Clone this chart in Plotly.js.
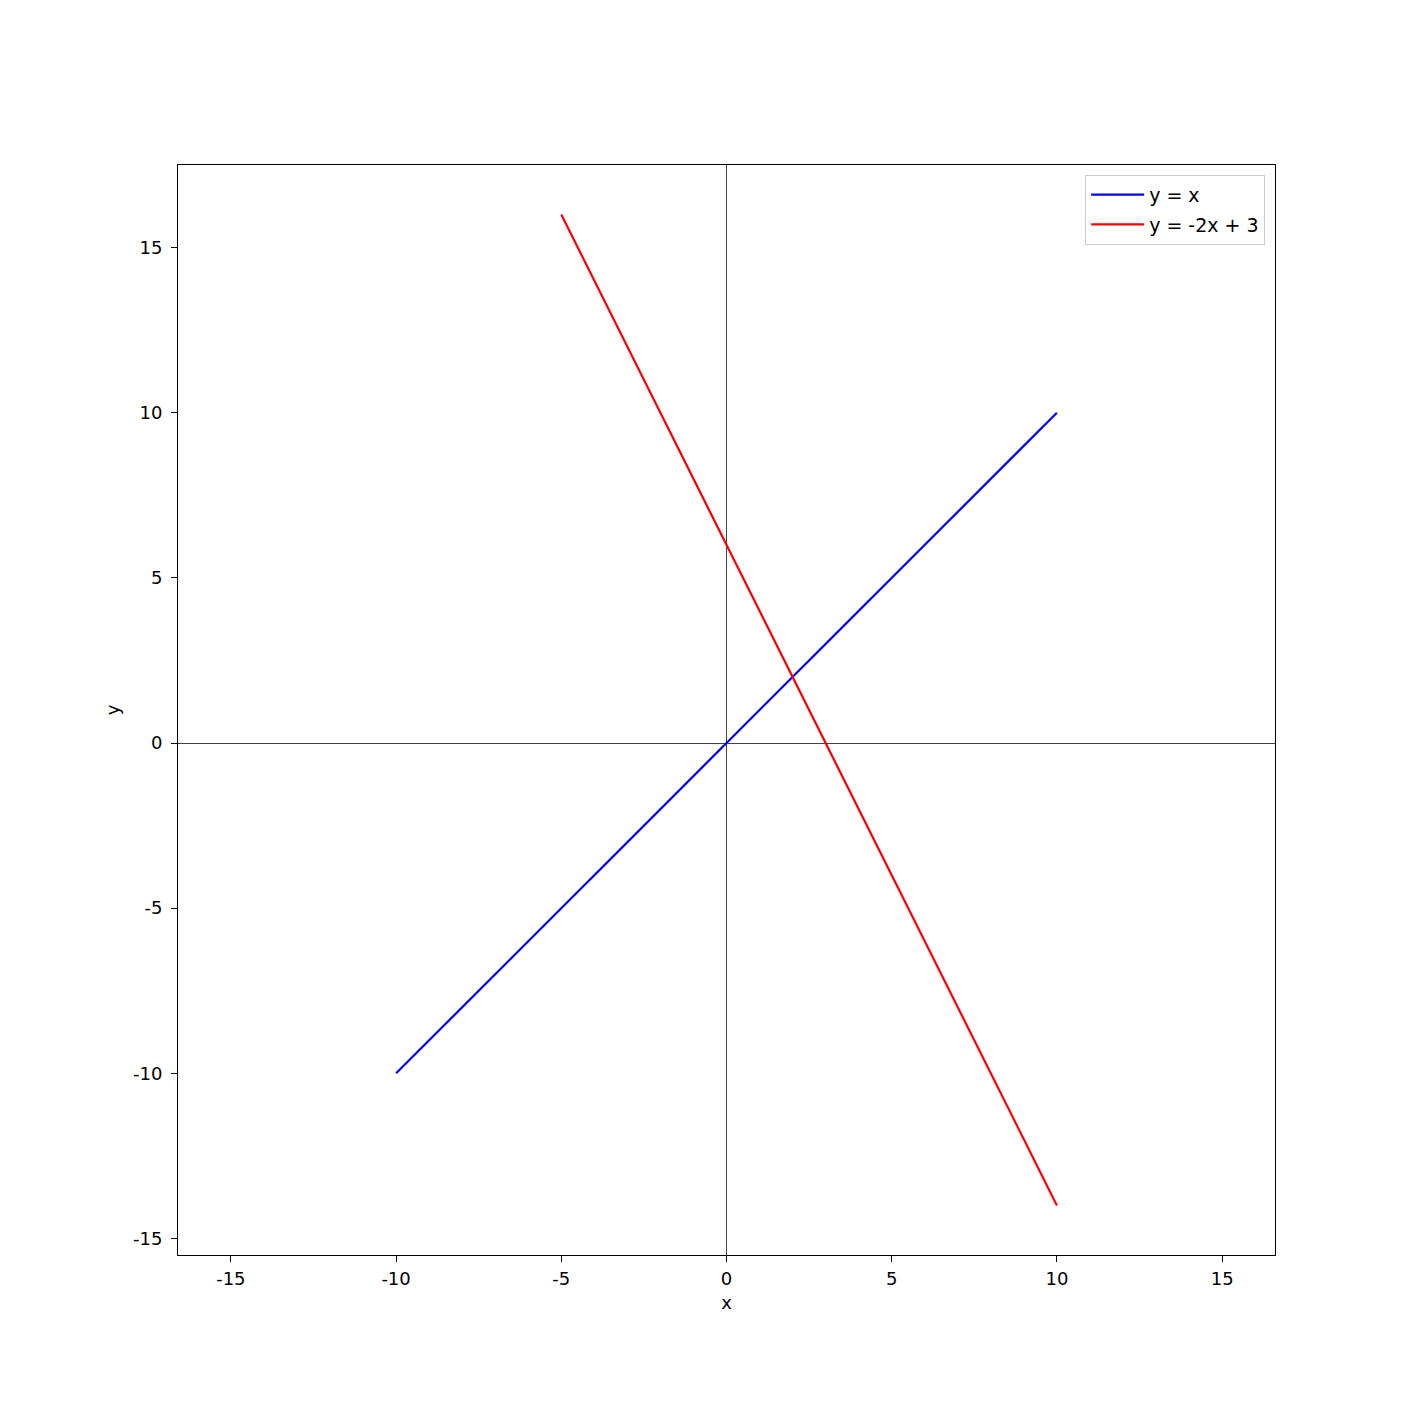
<!DOCTYPE html>
<html>
<head>
<meta charset="utf-8">
<script src="https://cdn.plot.ly/plotly-3.0.1.min.js"></script>
<style>html,body{margin:0;padding:0;background:#fff;}</style>
</head>
<body>
<div id="chart" style="width:1412px;height:1404px;"></div>
<script>
const line1Name = "y = x";
const line1X = [-10, 10];
const line1Y = [-10, 10];
const line2Name = "y = -2x + 3";
const line2X = [-5, 10];
const line2Y = [16, -14];
const tickVals = [-15, -10, -5, 0, 5, 10, 15];
const tickText = ["-15", "-10", "-5", "0", "5", "10", "15"];

const font = {family: "DejaVu Sans, sans-serif", size: 18, color: "#000"};

const traces = [
  {x: line1X, y: line1Y, name: line1Name, legendgroup: "g1", mode: "lines", type: "scatter", line: {color: "#0000ff", width: 2.2}},
  {x: line2X, y: line2Y, name: line2Name, legendgroup: "g2", mode: "lines", type: "scatter", line: {color: "#ff0000", width: 2.2}}
];

const axisCommon = {
  tickvals: tickVals, ticktext: tickText,
  ticks: "outside", ticklen: 6, tickwidth: 1, tickcolor: "#000",
  showline: true, linecolor: "#000", linewidth: 1, mirror: true,
  showgrid: false, zeroline: true, zerolinecolor: "#444", zerolinewidth: 1,
  tickfont: font
};

const layout = {
  width: 1412, height: 1404,
  paper_bgcolor: "#fff", plot_bgcolor: "#fff",
  margin: {l: 178, r: 137, t: 165, b: 149},
  font: font,
  showlegend: true,
  legend: {x: 0.991, y: 0.991, xanchor: "right", yanchor: "top", bgcolor: "rgba(255,255,255,0.8)",
           bordercolor: "#cccccc", borderwidth: 1, tracegroupgap: 2, itemwidth: 53,
           font: {family: "DejaVu Sans, sans-serif", size: 19, color: "#000"}},
  xaxis: Object.assign({}, axisCommon, {range: [-16.6, 16.6], ticklabelstandoff: 1,
          title: {text: "x", font: font, standoff: 8}}),
  yaxis: Object.assign({}, axisCommon, {range: [-15.5, 17.5], ticklabelstandoff: 5,
          title: {text: "y", font: font, standoff: 8}})
};

Plotly.newPlot("chart", traces, layout, {displayModeBar: false, staticPlot: true});
</script>
</body>
</html>
